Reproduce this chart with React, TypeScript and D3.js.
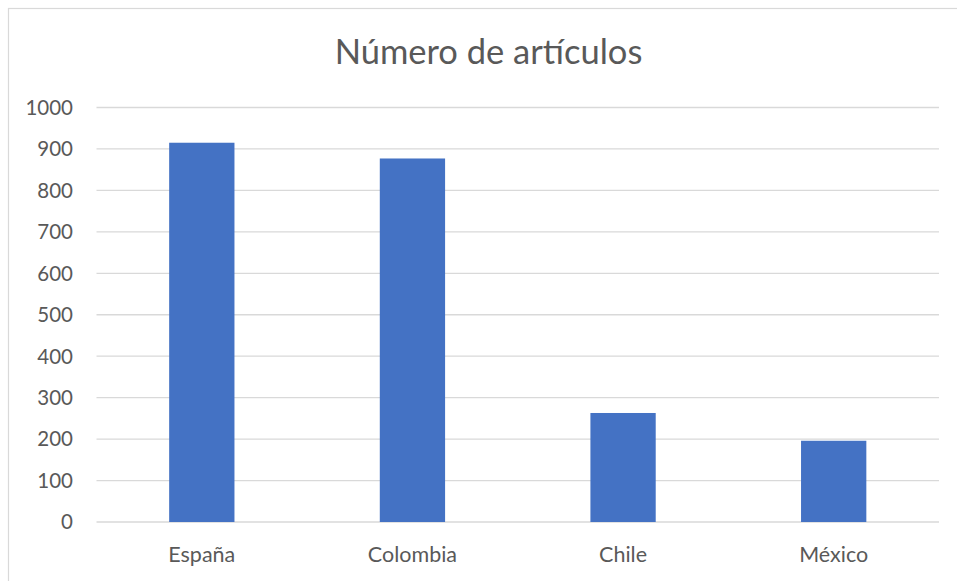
import * as React from 'react';
import * as d3 from 'd3';

const countries = ['España', 'Colombia', 'Chile', 'México'];
const articles = [915, 877, 263, 196];
const yTicks = [0, 100, 200, 300, 400, 500, 600, 700, 800, 900, 1000];
const chartTitle = 'Número de artículos';

const W = 957;
const H = 581;
const plot = { left: 96.5, right: 939, top: 107.5, bottom: 522 };
const font = 'Lato, "Open Sans", sans-serif';
const textCol = '#595959';

const App: React.FC = () => {
    const x = d3.scaleBand<string>()
        .domain(countries)
        .range([plot.left, plot.right])
        .paddingInner(0.69)
        .paddingOuter(0.345);
    const y = d3.scaleLinear().domain([0, 1000]).range([plot.bottom, plot.top]);

    return (
        <svg width={W} height={H} style={{ position: 'absolute', left: 0, top: 0, background: '#fff' }}>
            {/* chart border, runs off right and bottom */}
            <rect x={8.5} y={8.5} width={980} height={620} fill='#fff' stroke='#D9D9D9' strokeWidth={1.2} />

            <text x={488.5} y={63.5} textAnchor='middle' fontFamily={font} fontSize={34.5} fill={textCol}>
                {chartTitle}
            </text>

            {/* grid */}
            {yTicks.map(t => (
                <g key={t}>
                    <line x1={plot.left} x2={plot.right} y1={y(t)} y2={y(t)} stroke='#D9D9D9' strokeWidth={1.3} />
                    <text x={73} y={y(t)} dy='0.36em' textAnchor='end' fontFamily={font} fontSize={20.5} fill={textCol}>
                        {t}
                    </text>
                </g>
            ))}

            {/* bars */}
            {countries.map((c, i) => (
                <rect key={c} x={x(c)} y={y(articles[i])} width={x.bandwidth()} height={y(0) - y(articles[i])} fill='#4472C4' />
            ))}

            {countries.map(c => (
                <text key={c} x={(x(c) as number) + x.bandwidth() / 2} y={561.5} textAnchor='middle' fontFamily={font} fontSize={21.5} fill={textCol}>
                    {c}
                </text>
            ))}
        </svg>
    );
};

export default App;
